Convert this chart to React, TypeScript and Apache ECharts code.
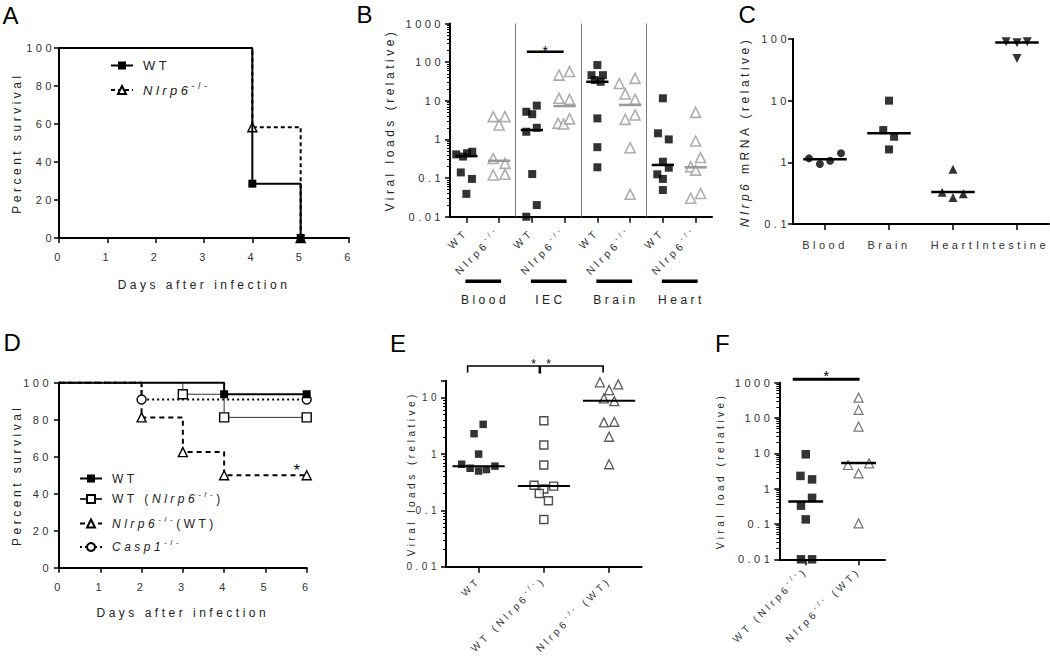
import React, { useEffect, useRef } from "react";
import * as echarts from "echarts";

const FONT = "'Liberation Sans', Arial, sans-serif";
const LS = 3.5; // letter spacing of the original figure text
const TXT = "#333";
const NAME = "#222";

// ---------- Panel A : survival ----------
const aDays = [0, 4, 5];
const aSurvWT = [100, 28.6, 0];
const aSurvKO = [100, 58.3, 0];

// ---------- Panel B : viral loads per organ ----------
const bCategories = ["WT", "Nlrp6-/-", "WT", "Nlrp6-/-", "WT", "Nlrp6-/-", "WT", "Nlrp6-/-"];
const bGroups = ["Blood", "IEC", "Brain", "Heart"];
const bBloodWT = [0.41, 0.36, 0.44, 0.48, 0.14, 0.095, 0.039];
const bBloodWTJitter = [-0.31, -0.1, 0.02, 0.18, -0.17, 0.17, 0];
const bBloodKO = [3.9, 3.9, 2.36, 0.32, 0.24, 0.12, 0.125];
const bBloodKOJitter = [-0.18, 0.18, 0, -0.18, 0.18, -0.18, 0.18];
const bIecWT = [5.2, 4.5, 7.5, 1.58, 2.0, 0.127, 0.02, 0.01];
const bIecWTJitter = [-0.17, 0.01, 0.15, -0.17, 0.15, 0.01, 0.15, -0.17];
const bIecKO = [46, 57, 11.6, 10.9, 2.6, 2.5, 3.4];
const bIecKOJitter = [-0.17, 0.15, -0.17, 0.15, -0.2, -0.03, 0.15];
const bBrainWT = [84, 46, 46, 34.5, 31, 3.5, 0.63, 0.19];
const bBrainWTJitter = [0, -0.18, 0.17, -0.08, 0.1, 0, 0, 0];
const bBrainKO = [28, 38, 15, 10.9, 3.3, 4.3, 0.61, 0.038];
const bBrainKOJitter = [-0.33, 0.15, -0.15, 0.15, -0.15, 0.15, 0, 0];
const bHeartWT = [11.6, 1.44, 1.0, 0.265, 0.185, 0.125, 0.095, 0.049];
const bHeartWTJitter = [0, -0.15, 0.18, 0, 0.18, -0.17, 0, 0];
const bHeartKO = [5.0, 0.91, 0.34, 0.197, 0.16, 0.04, 0.03];
const bHeartKOJitter = [0, 0, 0.15, -0.15, 0, 0.15, -0.15];
const bMedianWT = [0.37, 1.75, 31, 0.218];
const bMedianKO = [0.28, 7.3, 7.8, 0.19];

// ---------- Panel C : Nlrp6 mRNA ----------
const cCategories = ["Blood", "Brain", "Heart", "Intestine"];
const cBlood = [1.16, 0.94, 1.06, 1.4];
const cBloodJitter = [-0.25, -0.08, 0.08, 0.25];
const cBrain = [10, 3.34, 2.6, 1.62];
const cBrainJitter = [0, -0.09, 0.08, 0];
const cHeart = [0.77, 0.327, 0.27, 0.31];
const cHeartJitter = [0, -0.17, 0, 0.16];
const cIntestine = [90, 87, 90, 48.5];
const cIntestineJitter = [-0.17, 0, 0.16, 0];
const cMedians = [1.12, 2.95, 0.33, 88];

// ---------- Panel D : survival of chimeras ----------
const dDaysWT = [0, 4, 6];
const dSurvWT = [100, 93.75, 93.75];
const dDaysWTKO = [0, 3, 4, 6];
const dSurvWTKO = [100, 93.75, 81.25, 81.25];
const dDaysKOWT = [0, 2, 3, 4, 6];
const dSurvKOWT = [100, 81.25, 62.5, 50, 50];
const dDaysCasp = [0, 2, 6];
const dSurvCasp = [100, 90.9, 90.9];

// ---------- Panel E ----------
const eCategories = ["WT", "WT (Nlrp6-/-)", "Nlrp6-/- (WT)"];
const eWT = [3.37, 2.3, 1.0, 0.66, 0.56, 0.5, 0.53, 0.61];
const eWTJitter = [0.07, -0.07, 0, -0.26, -0.13, 0, 0.12, 0.25];
const eWTKO = [3.9, 1.45, 0.64, 0.28, 0.27, 0.24, 0.2, 0.148, 0.069];
const eWTKOJitter = [0, 0, 0, -0.15, 0.15, 0, -0.07, 0.07, 0];
const eKOWT = [18.8, 17.3, 13.7, 9.75, 8.7, 3.66, 3.75, 2.03, 0.66];
const eKOWTJitter = [-0.14, 0.14, 0, -0.08, 0.08, -0.08, 0.08, 0, 0];
const eMedians = [0.61, 0.27, 8.85];

// ---------- Panel F ----------
const fCategories = ["WT (Nlrp6-/-)", "Nlrp6-/- (WT)"];
const fWTKO = [9.4, 2.3, 1.83, 0.55, 0.33, 0.135, 0.01, 0.01];
const fWTKOJitter = [0, -0.1, 0.12, 0.12, -0.09, 0, -0.09, 0.12];
const fKOWT = [376, 169, 56.8, 4.67, 5.2, 2.7, 0.104];
const fKOWTJitter = [0, 0, 0, -0.2, 0.2, 0, 0];
const fMedians = [0.43, 5.3];

// ---------- helpers ----------
function mkRich(fs: number, color: string) {
  const r: any = {};
  const sfs = Math.round(fs * 0.7);
  for (let n = 1; n <= 24; n++) {
    const pr = [0, n * LS, 0, 0];
    const pl = [0, n * LS, 0, 0.28 * fs + LS];
    r["p" + n] = { fontSize: fs, color, fontFamily: FONT, align: "left", lineHeight: fs + 5, padding: pr };
    r["i" + n] = { fontSize: fs, color, fontFamily: FONT, fontStyle: "italic", align: "left", lineHeight: fs + 5, padding: pr };
    r["s" + n] = { fontSize: sfs, color, fontFamily: FONT, align: "left", lineHeight: sfs + 1, verticalAlign: "top", padding: pr };
    r["p" + n + "L"] = { ...r["p" + n], padding: pl };
    r["i" + n + "L"] = { ...r["i" + n], padding: pl };
    // same as p, with a little extra room on the right (keeps a centred label off the page edge)
    r["p" + n + "R"] = { ...r["p" + n], padding: [0, n * LS + 9, 0, 0] };
  }
  return r;
}
function rt(parts: [string, string][]) {
  return parts
    .map(([b, t]) => {
      let lead = "";
      if (t.startsWith(" ")) {
        t = t.trimStart();
        lead = "L";
      }
      return `{${b}${t.length}${lead}|${t}}`;
    })
    .join("");
}
function supRich(label: string, italic = false) {
  const segs = label.split("-/-");
  const parts: [string, string][] = [];
  segs.forEach((s, i) => {
    if (s) parts.push([italic ? "i" : "p", s]);
    if (i < segs.length - 1) parts.push(["s", "-/-"]);
  });
  return rt(parts);
}
const km = (days: number[], surv: number[]) =>
  days.map((d, i) => (i === 0 ? { value: [d, surv[i]], symbol: "none" } : [d, surv[i]]));
const pts = (cat: number, vals: number[], jit: number[]) => vals.map((v, i) => [cat + jit[i], v]);
const logFmt = (v: number) => {
  const e = Math.log10(v);
  const r = Math.round(e);
  if (Math.abs(e - r) > 1e-6) return "";
  return r >= 0 ? String(Math.pow(10, r)) : Math.pow(10, r).toFixed(-r);
};

function medianSeries(xi: number, yi: number, data: number[][], hw: number, color: string, width: number) {
  return {
    type: "custom",
    xAxisIndex: xi,
    yAxisIndex: yi,
    data,
    silent: true,
    z: 5,
    clip: false,
    encode: { x: 0, y: 1 },
    renderItem: (params: any, api: any) => {
      const x = api.value(0);
      const y = api.value(1);
      const a = api.coord([x - hw, y]);
      const b = api.coord([x + hw, y]);
      return {
        type: "line",
        shape: { x1: a[0], y1: a[1], x2: b[0], y2: b[1] },
        style: { stroke: color, lineWidth: width },
      };
    },
  };
}

function buildOption() {
  const lab = (fs: number, extra: any = {}) => ({ color: TXT, fontFamily: FONT, fontSize: fs, ...extra });
  const nameStyle = (fs: number) => ({ color: NAME, fontFamily: FONT, fontSize: fs });
  const aLine = { show: true, onZero: false, lineStyle: { color: "#000", width: 2 } };
  const aTick = { show: true, length: 5, lineStyle: { color: "#000", width: 1.5 } };
  const cTick = { ...aTick, alignWithLabel: true, length: 6 };
  const noSplit = { show: false };
  const minor = { show: true, splitNumber: 9, length: 3, lineStyle: { color: "#000", width: 1 } };

  const openBlack = (sym: string, size: number, extra: any = {}) => ({
    type: "scatter",
    symbol: sym,
    symbolSize: size,
    clip: false,
    itemStyle: { color: "#fff", borderColor: "#222", borderWidth: 1.4 },
    ...extra,
  });
  const filled = (sym: string, size: number, extra: any = {}) => ({
    type: "scatter",
    symbol: sym,
    symbolSize: size,
    clip: false,
    itemStyle: { color: "#000" },
    ...extra,
  });

  const leg = (name: string, left: number, top: number, label: string, fs: number, padL: number) => ({
    data: [name],
    left,
    top,
    itemWidth: 22,
    itemHeight: 10,
    padding: 0,
    selectedMode: false,
    formatter: () => label,
    textStyle: { color: NAME, fontFamily: FONT, fontSize: fs, padding: [0, 0, 0, padL], rich: mkRich(fs, NAME) },
  });

  const grid = (left: number, top: number, width: number, height: number) => ({
    left, top, width, height, containLabel: false, outerBoundsMode: "none",
  });

  return {
    animation: false,
    backgroundColor: "#fff",
    textStyle: { fontFamily: FONT },
    grid: [
      grid(59, 48, 290, 190),
      grid(450, 23.5, 262, 193.2),
      grid(793, 39, 256, 185),
      grid(59, 382.7, 247.7, 185),
      grid(446, 380.8, 195.7, 185.9),
      grid(779.3, 382.7, 105.7, 176.6),
    ],
    legend: [
      leg("aWT", 110, 59, rt([["p", "WT"]]), 13, 5),
      leg("aKO", 110, 81, rt([["i", "Nlrp6"], ["s", "-/-"]]), 13, 5),
      leg("dWT", 79, 472.5, rt([["p", "WT"]]), 12, 5),
      leg("dWTKO", 79, 490.5, rt([["p", "WT ("], ["i", "Nlrp6"], ["s", "-/-"], ["p", ")"]]), 12, 5),
      leg("dKOWT", 79, 515, rt([["i", "Nlrp6"], ["s", "-/-"], ["p", "(WT)"]]), 12, 5),
      leg("dCasp", 79, 538.5, rt([["i", "Casp1"], ["s", "-/-"]]), 12, 5),
    ],
    xAxis: [
      {
        gridIndex: 0, type: "value", min: 0, max: 6, interval: 1,
        axisLine: aLine, axisTick: aTick, splitLine: noSplit,
        axisLabel: lab(11, { margin: 13 }),
        name: "Days after infection", nameLocation: "middle", nameGap: 41, nameTextStyle: nameStyle(12),
      },
      {
        gridIndex: 1, type: "category", data: bCategories.map((_, i) => String(i)),
        axisLine: aLine, axisTick: cTick, splitLine: noSplit,
        axisLabel: {
          ...lab(10.5), interval: 0, rotate: 45, margin: 14,
          formatter: (v: string) => supRich(bCategories[+v]),
          rich: mkRich(10.5, TXT),
        },
      },
      { gridIndex: 1, type: "value", min: -0.5, max: 7.5, show: false },
      {
        gridIndex: 2, type: "category", data: cCategories,
        axisLine: aLine, axisTick: cTick, splitLine: noSplit,
        axisLabel: {
          ...lab(11), interval: 0, margin: 13,
          formatter: (v: string, i: number) => `{p${v.length}${i === cCategories.length - 1 ? "R" : ""}|${v}}`,
          rich: mkRich(11, TXT),
        },
      },
      { gridIndex: 2, type: "value", min: -0.5, max: 3.5, show: false },
      {
        gridIndex: 3, type: "value", min: 0, max: 6, interval: 1,
        axisLine: aLine, axisTick: aTick, splitLine: noSplit,
        axisLabel: lab(11, { margin: 14 }),
        name: "Days after infection", nameLocation: "middle", nameGap: 39, nameTextStyle: nameStyle(12),
      },
      {
        gridIndex: 4, type: "category", data: eCategories.map((_, i) => String(i)),
        axisLine: aLine, axisTick: cTick, splitLine: noSplit,
        axisLabel: {
          ...lab(10), interval: 0, rotate: 45, margin: 12,
          formatter: (v: string) => supRich(eCategories[+v]),
          rich: mkRich(10, TXT),
        },
      },
      { gridIndex: 4, type: "value", min: -0.5, max: 2.5, show: false },
      {
        gridIndex: 5, type: "category", data: fCategories.map((_, i) => String(i)),
        axisLine: aLine, axisTick: cTick, splitLine: noSplit,
        axisLabel: {
          ...lab(10), interval: 0, rotate: 45, margin: 10,
          formatter: (v: string) => supRich(fCategories[+v]),
          rich: mkRich(10, TXT),
        },
      },
      { gridIndex: 5, type: "value", min: -0.5, max: 1.5, show: false },
    ],
    yAxis: [
      {
        gridIndex: 0, type: "value", min: 0, max: 100, interval: 20,
        axisLine: aLine, axisTick: aTick, splitLine: noSplit,
        axisLabel: lab(11, { margin: 4 }),
        name: "Percent survival", nameLocation: "middle", nameGap: 36, nameTextStyle: nameStyle(12),
      },
      {
        gridIndex: 1, type: "log", logBase: 10, min: 0.01, max: 1000,
        axisLine: aLine, axisTick: aTick, minorTick: minor, splitLine: noSplit, minorSplitLine: noSplit,
        axisLabel: lab(11, { margin: 6, formatter: logFmt }),
        name: "Viral loads (relative)", nameLocation: "middle", nameGap: 54, nameTextStyle: nameStyle(12),
      },
      {
        gridIndex: 2, type: "log", logBase: 10, min: 0.1, max: 100,
        axisLine: aLine, axisTick: aTick, splitLine: noSplit,
        axisLabel: lab(11, { margin: 3, formatter: logFmt }),
        name: rt([["i", "Nlrp6"], ["p", " mRNA (relative)"]]), nameLocation: "middle", nameGap: 40,
        nameTextStyle: { ...nameStyle(12), rich: mkRich(12, NAME) },
      },
      {
        gridIndex: 3, type: "value", min: 0, max: 100, interval: 20,
        axisLine: aLine, axisTick: aTick, splitLine: noSplit,
        axisLabel: lab(11, { margin: 7 }),
        name: "Percent survival", nameLocation: "middle", nameGap: 36, nameTextStyle: nameStyle(12),
      },
      {
        gridIndex: 4, type: "log", logBase: 10, min: 0.01, max: 20,
        axisLine: aLine, axisTick: aTick, minorTick: minor, splitLine: noSplit, minorSplitLine: noSplit,
        axisLabel: lab(10, { margin: 6, formatter: logFmt }),
        name: "Viral loads (relative)", nameLocation: "middle", nameGap: 29, nameTextStyle: nameStyle(10),
      },
      {
        gridIndex: 5, type: "log", logBase: 10, min: 0.01, max: 1000,
        axisLine: aLine, axisTick: aTick, minorTick: minor, splitLine: noSplit, minorSplitLine: noSplit,
        axisLabel: lab(11, { margin: 6, formatter: logFmt }),
        name: "Viral load (relative)", nameLocation: "middle", nameGap: 54, nameTextStyle: nameStyle(10),
      },
    ],
    series: [
      // A
      {
        type: "line", name: "aKO", xAxisIndex: 0, yAxisIndex: 0, step: "end", data: km(aDays, aSurvKO),
        symbol: "triangle", symbolSize: 9, clip: false, z: 2,
        itemStyle: { color: "#fff", borderColor: "#000", borderWidth: 1.4 },
        lineStyle: { color: "#000", width: 2, type: [4, 3] },
      },
      {
        type: "line", name: "aWT", xAxisIndex: 0, yAxisIndex: 0, step: "end", data: km(aDays, aSurvWT),
        symbol: "rect", symbolSize: 8, clip: false, z: 3,
        itemStyle: { color: "#000" }, lineStyle: { color: "#000", width: 2 },
      },
      // B
      filled("rect", 8, {
        name: "bWT", xAxisIndex: 2, yAxisIndex: 1,
        data: [
          ...pts(0, bBloodWT, bBloodWTJitter),
          ...pts(2, bIecWT, bIecWTJitter),
          ...pts(4, bBrainWT, bBrainWTJitter),
          ...pts(6, bHeartWT, bHeartWTJitter),
        ],
        markLine: {
          silent: true, symbol: "none", label: { show: false },
          lineStyle: { color: "#777", width: 1, type: "solid" },
          data: [{ xAxis: 1.5 }, { xAxis: 3.5 }, { xAxis: 5.5 }],
        },
      }),
      {
        type: "scatter", name: "bKO", xAxisIndex: 2, yAxisIndex: 1, symbol: "triangle", symbolSize: 10, clip: false,
        itemStyle: { color: "#fff", borderColor: "#9a9a9a", borderWidth: 1.6 },
        data: [
          ...pts(1, bBloodKO, bBloodKOJitter),
          ...pts(3, bIecKO, bIecKOJitter),
          ...pts(5, bBrainKO, bBrainKOJitter),
          ...pts(7, bHeartKO, bHeartKOJitter),
        ],
      },
      medianSeries(2, 1, bMedianWT.map((m, k) => [2 * k, m]), 0.34, "#000", 2.5),
      medianSeries(2, 1, bMedianKO.map((m, k) => [2 * k + 1, m]), 0.34, "#999", 2.5),
      // C
      filled("circle", 8, { name: "cBlood", xAxisIndex: 4, yAxisIndex: 2, data: pts(0, cBlood, cBloodJitter) }),
      filled("rect", 8, { name: "cBrain", xAxisIndex: 4, yAxisIndex: 2, data: pts(1, cBrain, cBrainJitter) }),
      filled("triangle", 9, { name: "cHeart", xAxisIndex: 4, yAxisIndex: 2, data: pts(2, cHeart, cHeartJitter) }),
      filled("triangle", 9, {
        name: "cIntestine", xAxisIndex: 4, yAxisIndex: 2, symbolRotate: 180,
        data: pts(3, cIntestine, cIntestineJitter),
      }),
      medianSeries(4, 2, cMedians.map((m, k) => [k, m]), 0.34, "#000", 2.5),
      // D
      {
        type: "line", name: "dKOWT", xAxisIndex: 5, yAxisIndex: 3, step: "end", data: km(dDaysKOWT, dSurvKOWT),
        symbol: "triangle", symbolSize: 9, clip: false, z: 2,
        itemStyle: { color: "#fff", borderColor: "#000", borderWidth: 1.4 },
        lineStyle: { color: "#000", width: 2, type: [5, 4] },
      },
      {
        type: "line", name: "dCasp", xAxisIndex: 5, yAxisIndex: 3, step: "end", data: km(dDaysCasp, dSurvCasp),
        symbol: "circle", symbolSize: 9, clip: false, z: 2,
        itemStyle: { color: "#fff", borderColor: "#000", borderWidth: 1.4 },
        lineStyle: { color: "#000", width: 2, type: [2, 3] },
      },
      {
        type: "line", name: "dWTKO", xAxisIndex: 5, yAxisIndex: 3, step: "end", data: km(dDaysWTKO, dSurvWTKO),
        symbol: "rect", symbolSize: 9, clip: false, z: 3,
        itemStyle: { color: "#fff", borderColor: "#000", borderWidth: 1.4 },
        lineStyle: { color: "#333", width: 1 },
      },
      {
        type: "line", name: "dWT", xAxisIndex: 5, yAxisIndex: 3, step: "end", data: km(dDaysWT, dSurvWT),
        symbol: "rect", symbolSize: 8, clip: false, z: 4,
        itemStyle: { color: "#000" }, lineStyle: { color: "#000", width: 2 },
      },
      // E
      filled("rect", 7.5, { name: "eWT", xAxisIndex: 7, yAxisIndex: 4, data: pts(0, eWT, eWTJitter) }),
      openBlack("rect", 8, { name: "eWTKO", xAxisIndex: 7, yAxisIndex: 4, data: pts(1, eWTKO, eWTKOJitter) }),
      openBlack("triangle", 9, {
        name: "eKOWT", xAxisIndex: 7, yAxisIndex: 4, data: pts(2, eKOWT, eKOWTJitter),
        itemStyle: { color: "#fff", borderColor: "#333", borderWidth: 1.3 },
      }),
      medianSeries(7, 4, eMedians.map((m, k) => [k, m]), 0.4, "#000", 2),
      // F
      filled("rect", 8.5, { name: "fWTKO", xAxisIndex: 9, yAxisIndex: 5, data: pts(0, fWTKO, fWTKOJitter) }),
      openBlack("triangle", 9, {
        name: "fKOWT", xAxisIndex: 9, yAxisIndex: 5, data: pts(1, fKOWT, fKOWTJitter),
        itemStyle: { color: "#fff", borderColor: "#555", borderWidth: 1.2 },
      }),
      medianSeries(9, 5, fMedians.map((m, k) => [k, m]), 0.33, "#000", 2.5),
    ],
  };
}

function buildGraphics(chart: any) {
  const px = (xi: number, yi: number, p: number[]) =>
    chart.convertToPixel({ xAxisIndex: xi, yAxisIndex: yi }, p) as number[];
  const g: any[] = [];
  const txt = (text: string, x: number, y: number, fs: number, align = "center", va = "middle") => ({
    type: "text",
    x,
    y,
    silent: true,
    style: { text, fontSize: fs, fontFamily: FONT, fill: "#000", align, verticalAlign: va },
  });
  const line = (x1: number, y1: number, x2: number, y2: number, w: number) => ({
    type: "line",
    silent: true,
    shape: { x1, y1, x2, y2 },
    style: { stroke: "#000", lineWidth: w },
  });

  // panel letters
  const letters: [string, number, number][] = [
    ["A", 2.5, 3],
    ["B", 356.5, 2],
    ["C", 738.5, 2],
    ["D", 3.5, 330],
    ["E", 390, 331],
    ["F", 715, 331],
  ];
  letters.forEach(([t, x, y]) => g.push(txt(t, x, y, 24, "left", "top")));

  // B: organ group bars and labels
  bGroups.forEach((name, k) => {
    const x1 = px(2, 1, [2 * k, 1])[0] - 1;
    const x2 = px(2, 1, [2 * k + 1, 1])[0] + 2;
    g.push({ type: "rect", silent: true, shape: { x: x1, y: 279.5, width: x2 - x1, height: 3.5 }, style: { fill: "#000" } });
    g.push({
      type: "text", x: (x1 + x2) / 2 + LS / 2, y: 300, silent: true,
      style: { text: name, fontSize: 12, fontFamily: FONT, fill: NAME, align: "center", verticalAlign: "middle" },
    });
  });
  // B: significance bar on IEC
  {
    const x1 = px(2, 1, [2, 1])[0] - 5;
    const x2 = px(2, 1, [3, 1])[0] - 1;
    g.push(line(x1, 51.7, x2, 51.7, 2.5));
    g.push(txt("*", (x1 + x2) / 2 + 1.7, 51, 14));
  }
  // D: star near the last Nlrp6(WT) point
  {
    const p = px(5, 3, [6, 50]);
    g.push(txt("*", p[0] - 8, p[1] - 4.5, 16));
  }
  // E: bracket
  {
    const c0 = px(7, 4, [0, 1])[0];
    const c1 = px(7, 4, [1, 1])[0];
    const c2 = px(7, 4, [2, 1])[0];
    const y = 366;
    g.push({
      type: "polyline", silent: true,
      shape: { points: [[c0 - 11, y + 6.5], [c0 - 11, y], [c2 - 6, y], [c2 - 6, y + 6.5]] },
      style: { stroke: "#000", lineWidth: 1.6, fill: null },
    });
    g.push(line(c1 - 4, y, c1 - 4, y + 7.5, 2.5));
    g.push(txt("* *", c1 - 1, y - 2, 12));
  }
  // F: significance bar
  {
    const x1 = px(9, 5, [0, 1])[0] - 13;
    const x2 = px(9, 5, [1, 1])[0] + 1;
    g.push(line(x1, 379.3, x2, 379.3, 3));
    g.push(txt("*", (x1 + x2) / 2 + 1.7, 376, 14));
  }
  return g;
}

export default function App() {
  const ref = useRef<HTMLDivElement>(null);
  useEffect(() => {
    if (!ref.current) return;
    const chart = echarts.init(ref.current, undefined, { renderer: "svg" });
    chart.setOption(buildOption() as any);
    chart.setOption({ graphic: buildGraphics(chart) } as any);
    return () => chart.dispose();
  }, []);
  return (
    <>
      <style>{`.fig text{letter-spacing:${LS}px}`}</style>
      <div
        ref={ref}
        className="fig"
        style={{ position: "absolute", left: 0, top: 0, width: 1050, height: 657, background: "#fff" }}
      />
    </>
  );
}
